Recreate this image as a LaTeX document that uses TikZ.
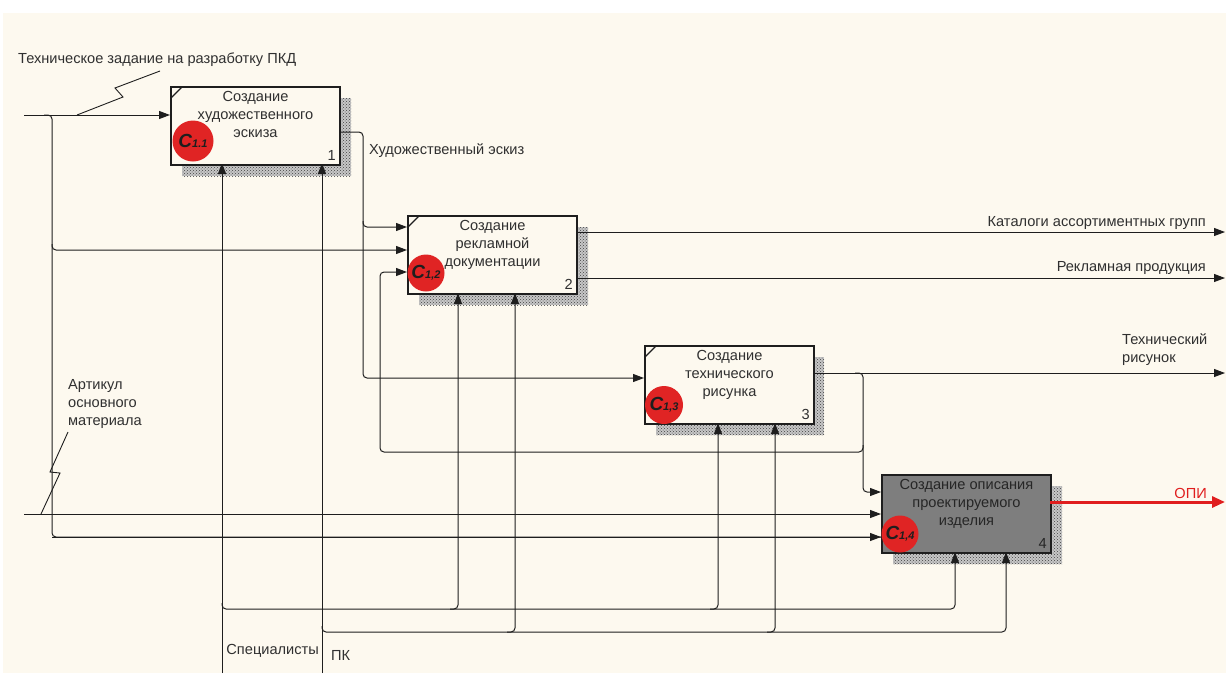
\documentclass[tikz,border=0pt]{standalone}
\usepackage{fontspec}
\setmainfont{Liberation Sans}
\newfontfamily\cfont{Liberation Sans}
\usetikzlibrary{arrows.meta,patterns,calc}
\definecolor{cream}{HTML}{FDF9EF}
\definecolor{ink}{HTML}{1E1E1E}
\definecolor{txt}{HTML}{303030}
\definecolor{cred}{HTML}{E02424}
\definecolor{boxgray}{HTML}{7E7E7E}
\definecolor{opi}{HTML}{E01E1E}
\newcommand{\badge}[1]{{\cfont\bfseries\itshape\fontsize{19}{19}\selectfont C\fontsize{11}{11}\selectfont #1}}
\begin{document}
\begin{tikzpicture}[x=1pt,y=-1pt,
  lbl/.style={font=\fontsize{14.6}{18}\selectfont, text=txt, inner sep=0pt},
  fn/.style={draw=ink, line width=2pt, minimum width=169pt, minimum height=78pt, anchor=north west, fill=cream, inner sep=0pt},
  shadowbox/.style={pattern=crosshatch dots, pattern color=black!75},
  conn/.style={draw=ink, line width=1pt, rounded corners=4pt},
  arr/.style={conn, -{Triangle[length=11pt,width=8pt]}},
  badgec/.style={circle, fill=cred, inner sep=0pt, text=ink},
  tick/.style={draw=ink, line width=1.3pt},
  zig/.style={draw=ink, line width=0.9pt}
]
\useasboundingbox (0,0) rectangle (1226,673);
\fill[white] (0,0) rectangle (1226,673);
\fill[cream] (3,13) rectangle (1226,673);

% shadows
\fill[black!22] (182,98) rectangle (351,176);
\fill[black!22] (419,227) rectangle (588,305);
\fill[black!22] (656,357) rectangle (824,435);
\fill[black!22] (893,486) rectangle (1062,564);
\fill[shadowbox] (182,98) rectangle (351,176);
\fill[shadowbox] (419,227) rectangle (588,305);
\fill[shadowbox] (656,357) rectangle (824,435);
\fill[shadowbox] (893,486) rectangle (1062,564);

% coordinates
\coordinate (tzs) at (24,115);
\coordinate (tzb) at (44,115);
\coordinate (lv) at (52,537);
\coordinate (lb2) at (52,244);
\coordinate (ars) at (24,514);
\coordinate (e1) at (363,132);
\coordinate (e1d) at (363,378);
\coordinate (e1b) at (363,221);
\coordinate (o21) at (1225,232);
\coordinate (o22) at (1225,278);
\coordinate (o3) at (1225,373);
\coordinate (o3b) at (855,373);
\coordinate (v3) at (863,492);
\coordinate (fb) at (863,445);
\coordinate (fbl) at (380,452);
\coordinate (fbu) at (380,272);
\coordinate (sps) at (222,673);
\coordinate (spb) at (222,603);
\coordinate (sph) at (955,609);
\coordinate (pks) at (322,673);
\coordinate (pkb) at (322,626);
\coordinate (pkh) at (1006,632);
\coordinate (sp2) at (450,609);
\coordinate (sp3) at (710,609);
\coordinate (pk2) at (507,632);
\coordinate (pk3) at (767,632);
\coordinate (opie) at (1225,502);

% lines
\draw[arr] (tzs) -- (170,115);
\draw[conn] (tzb) -- (52,115) -- (lv) -- (881,537);
\draw[arr] (lv) -- (881,537);
\draw[arr] (lb2) -- (52,250) -- (407,250);
\draw[arr] (ars) -- (881,514);
\draw[arr] (339,132) -- (e1) -- (e1d) -- (644,378);
\draw[arr] (e1b) -- (363,227) -- (407,227);
\draw[arr] (576,232) -- (o21);
\draw[arr] (576,278) -- (o22);
\draw[arr] (812,373) -- (o3);
\draw[arr] (o3b) -- (863,373) -- (v3) -- (881,492);
\draw[arr] (fb) -- (863,452) -- (fbl) -- (fbu) -- (407,272);
\draw[arr] (sps) -- (222,163);
\draw[arr] (spb) -- (222,609) -- (sph) -- (955,552);
\draw[arr] (sp2) -- (458,609) -- (458,293);
\draw[arr] (sp3) -- (718,609) -- (718,423);
\draw[arr] (pks) -- (322,163);
\draw[arr] (pkb) -- (322,632) -- (pkh) -- (1006,552);
\draw[arr] (pk2) -- (515,632) -- (515,293);
\draw[arr] (pk3) -- (775,632) -- (775,423);

% boxes
\node[fn] (b1) at (170,86) {};
\node[fn] (b2) at (407,215) {};
\node[fn] (b3) at (644,345) {};
\node[fn, fill=boxgray] (b4) at (881,474) {};
\draw[tick] ($(b1.north west)+(1,12)$) -- ($(b1.north west)+(12,1)$);
\draw[tick] ($(b2.north west)+(1,12)$) -- ($(b2.north west)+(12,1)$);
\draw[tick] ($(b3.north west)+(1,12)$) -- ($(b3.north west)+(12,1)$);

\node[lbl, align=center, anchor=north] (t1) at ($(b1.north)+(0,5)$) {Создание\\художественного\\эскиза};
\node[lbl, align=center, anchor=north] (t2) at ($(b2.north)+(0,5)$) {Создание\\рекламной\\документации};
\node[lbl, align=center, anchor=north] (t3) at ($(b3.north)+(0,5)$) {Создание\\технического\\рисунка};
\node[lbl, align=center, anchor=north, text=black!85] (t4) at ($(b4.north)+(0,5)$) {Создание описания\\проектируемого\\изделия};
\node[lbl, anchor=south east] (n1) at ($(b1.south east)+(-5,-5)$) {1};
\node[lbl, anchor=south east] (n2) at ($(b2.south east)+(-5,-5)$) {2};
\node[lbl, anchor=south east] (n3) at ($(b3.south east)+(-5,-5)$) {3};
\node[lbl, anchor=south east, text=black!85] (n4) at ($(b4.south east)+(-5,-5)$) {4};

% badges
\node[badgec, minimum size=41pt] (c1) at (193,141) {\badge{1.1}};
\node[badgec, minimum size=37pt] (c2) at (426,273) {\badge{1,2}};
\node[badgec, minimum size=38pt] (c3) at (664,405) {\badge{1,3}};
\node[badgec, minimum size=37pt] (c4) at (900,534) {\badge{1,4}};

% OPI output
\draw[draw=opi, line width=3pt, -{Triangle[length=13pt,width=11pt]}] (1050,502) -- (opie);

% labels
\node[lbl, anchor=west] (ltz) at (18,60) {Техническое задание на разработку ПКД};
\coordinate (z1) at (123,97);
\coordinate (z2) at (115,88);
\draw[zig] (160,71) -- (z2) -- (z1) -- (77,115);
\node[lbl, anchor=north west, align=left] (lar) at (68,379) {Артикул\\основного\\материала};
\draw[zig] (68,432) -- (50,472) -- (60,473) -- (41,514);
\node[lbl, anchor=west] (lhe) at (369,151) {Художественный эскиз};
\node[lbl, anchor=east] (lkat) at (1206,223) {Каталоги ассортиментных групп};
\node[lbl, anchor=east] (lrek) at (1206,268) {Рекламная продукция};
\node[lbl, anchor=north west, align=left] (ltr) at (1122,333) {Технический\\рисунок};
\node[lbl, anchor=east, text=opi] (lopi) at (1207,493) {ОПИ};
\node[lbl, anchor=east] (lsp) at (319,651) {Специалисты};
\node[lbl, anchor=west] (lpk) at (331,655) {ПК};
\end{tikzpicture}
\end{document}
